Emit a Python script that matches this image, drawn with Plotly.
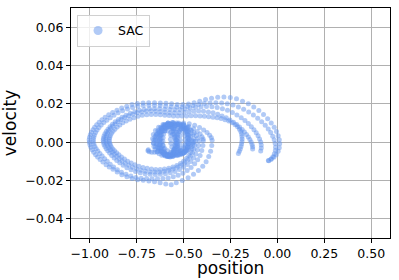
import plotly.graph_objects as go

# ---- data (position, velocity) ----
blob_loop1 = [(-0.546, 0.0003), (-0.547, 0.0023), (-0.550, 0.0042), (-0.555, 0.0058), (-0.562, 0.0071), (-0.570, 0.0078),
              (-0.578, 0.0081), (-0.586, 0.0078), (-0.594, 0.0071), (-0.601, 0.0058), (-0.606, 0.0042), (-0.609, 0.0023),
              (-0.610, 0.0003), (-0.609, -0.0017), (-0.606, -0.0036), (-0.601, -0.0052), (-0.594, -0.0065), (-0.586, -0.0072),
              (-0.578, -0.0075), (-0.570, -0.0072), (-0.562, -0.0065), (-0.555, -0.0052), (-0.550, -0.0036), (-0.547, -0.0017)]
blob_loop2 = [(-0.517, 0.0010), (-0.519, 0.0033), (-0.524, 0.0054), (-0.533, 0.0072), (-0.545, 0.0086), (-0.558, 0.0095),
              (-0.572, 0.0098), (-0.586, 0.0095), (-0.600, 0.0086), (-0.611, 0.0072), (-0.620, 0.0054), (-0.625, 0.0033),
              (-0.627, 0.0010), (-0.625, -0.0013), (-0.620, -0.0034), (-0.611, -0.0052), (-0.600, -0.0066), (-0.586, -0.0075),
              (-0.572, -0.0078), (-0.558, -0.0075), (-0.545, -0.0066), (-0.533, -0.0052), (-0.524, -0.0034), (-0.519, -0.0013)]
blob_loop3 = [(-0.470, 0.0015), (-0.473, 0.0038), (-0.482, 0.0059), (-0.496, 0.0077), (-0.515, 0.0091), (-0.537, 0.0100),
              (-0.560, 0.0103), (-0.583, 0.0100), (-0.605, 0.0091), (-0.624, 0.0077), (-0.638, 0.0059), (-0.647, 0.0038),
              (-0.650, 0.0015), (-0.647, -0.0008), (-0.638, -0.0029), (-0.624, -0.0047), (-0.605, -0.0061), (-0.583, -0.0070),
              (-0.560, -0.0073), (-0.537, -0.0070), (-0.515, -0.0061), (-0.496, -0.0047), (-0.482, -0.0029), (-0.473, -0.0008)]
blob_loop4 = [(-0.475, 0.0008), (-0.476, 0.0025), (-0.479, 0.0041), (-0.484, 0.0054), (-0.490, 0.0064), (-0.497, 0.0071),
              (-0.505, 0.0073), (-0.513, 0.0071), (-0.520, 0.0064), (-0.526, 0.0054), (-0.531, 0.0041), (-0.534, 0.0025),
              (-0.535, 0.0008), (-0.534, -0.0009), (-0.531, -0.0025), (-0.526, -0.0038), (-0.520, -0.0048), (-0.513, -0.0055),
              (-0.505, -0.0057), (-0.497, -0.0055), (-0.490, -0.0048), (-0.484, -0.0038), (-0.479, -0.0025), (-0.476, -0.0009)]
blob_loop5 = [(-0.490, 0.0012), (-0.493, 0.0033), (-0.500, 0.0052), (-0.512, 0.0069), (-0.528, 0.0081), (-0.546, 0.0089),
              (-0.565, 0.0092), (-0.584, 0.0089), (-0.603, 0.0081), (-0.618, 0.0069), (-0.630, 0.0052), (-0.637, 0.0033),
              (-0.640, 0.0012), (-0.637, -0.0009), (-0.630, -0.0028), (-0.618, -0.0045), (-0.603, -0.0057), (-0.584, -0.0065),
              (-0.565, -0.0068), (-0.546, -0.0065), (-0.528, -0.0057), (-0.512, -0.0045), (-0.500, -0.0028), (-0.493, -0.0009)]
blob_loop6 = [(-0.445, 0.0018), (-0.449, 0.0040), (-0.460, 0.0061), (-0.477, 0.0078), (-0.500, 0.0092), (-0.527, 0.0100),
              (-0.555, 0.0103), (-0.583, 0.0100), (-0.610, 0.0092), (-0.633, 0.0078), (-0.650, 0.0061), (-0.661, 0.0040),
              (-0.665, 0.0018), (-0.661, -0.0004), (-0.650, -0.0025), (-0.633, -0.0042), (-0.610, -0.0056), (-0.583, -0.0064),
              (-0.555, -0.0067), (-0.527, -0.0064), (-0.500, -0.0056), (-0.477, -0.0042), (-0.460, -0.0025), (-0.449, -0.0004)]
blob_loop7 = [(-0.458, 0.0010), (-0.462, 0.0034), (-0.472, 0.0055), (-0.488, 0.0072), (-0.508, 0.0084), (-0.530, 0.0093),
              (-0.553, 0.0096), (-0.576, 0.0094), (-0.598, 0.0087), (-0.618, 0.0075), (-0.634, 0.0058), (-0.644, 0.0037),
              (-0.648, 0.0012), (-0.644, -0.0012), (-0.634, -0.0033), (-0.618, -0.0050), (-0.598, -0.0062), (-0.576, -0.0069),
              (-0.553, -0.0071), (-0.530, -0.0068), (-0.508, -0.0060), (-0.488, -0.0047), (-0.472, -0.0030), (-0.462, -0.0011)]
blob_loop8 = [(-0.530, 0.0005), (-0.532, 0.0030), (-0.538, 0.0052), (-0.548, 0.0068), (-0.561, 0.0078), (-0.575, 0.0082),
              (-0.590, 0.0080), (-0.604, 0.0072), (-0.615, 0.0058), (-0.622, 0.0040), (-0.625, 0.0018), (-0.624, -0.0005),
              (-0.619, -0.0027), (-0.610, -0.0045), (-0.598, -0.0058), (-0.584, -0.0065), (-0.570, -0.0066), (-0.556, -0.0060),
              (-0.545, -0.0049), (-0.537, -0.0033), (-0.532, -0.0015)]
blob_loop9 = [(-0.540, 0.0010), (-0.542, 0.0032), (-0.546, 0.0053), (-0.553, 0.0070), (-0.563, 0.0084), (-0.573, 0.0092),
              (-0.585, 0.0095), (-0.597, 0.0092), (-0.607, 0.0084), (-0.617, 0.0070), (-0.624, 0.0053), (-0.628, 0.0032),
              (-0.630, 0.0010), (-0.628, -0.0012), (-0.624, -0.0033), (-0.617, -0.0050), (-0.607, -0.0064), (-0.597, -0.0072),
              (-0.585, -0.0075), (-0.573, -0.0072), (-0.563, -0.0064), (-0.553, -0.0050), (-0.546, -0.0033), (-0.542, -0.0012)]
blob_loop10 = [(-0.480, 0.0020), (-0.482, 0.0039), (-0.489, 0.0058), (-0.500, 0.0073), (-0.515, 0.0085), (-0.532, 0.0092),
               (-0.550, 0.0095), (-0.568, 0.0092), (-0.585, 0.0085), (-0.600, 0.0073), (-0.611, 0.0058), (-0.618, 0.0039),
               (-0.620, 0.0020), (-0.618, 0.0001), (-0.611, -0.0018), (-0.600, -0.0033), (-0.585, -0.0045), (-0.568, -0.0052),
               (-0.550, -0.0055), (-0.532, -0.0052), (-0.515, -0.0045), (-0.500, -0.0033), (-0.489, -0.0018), (-0.482, 0.0001)]
blob_loop11 = [(-0.540, -0.0005), (-0.542, 0.0012), (-0.548, 0.0028), (-0.558, 0.0041), (-0.570, 0.0051), (-0.585, 0.0058),
               (-0.600, 0.0060), (-0.616, 0.0058), (-0.630, 0.0051), (-0.642, 0.0041), (-0.652, 0.0028), (-0.658, 0.0012),
               (-0.660, -0.0005), (-0.658, -0.0022), (-0.652, -0.0038), (-0.642, -0.0051), (-0.630, -0.0061), (-0.616, -0.0068),
               (-0.600, -0.0070), (-0.585, -0.0068), (-0.570, -0.0061), (-0.558, -0.0051), (-0.548, -0.0038), (-0.542, -0.0022)]
blob_loop12 = [(-0.470, 0.0015), (-0.472, 0.0036), (-0.477, 0.0055), (-0.485, 0.0072), (-0.495, 0.0084), (-0.507, 0.0092),
               (-0.520, 0.0095), (-0.533, 0.0092), (-0.545, 0.0084), (-0.555, 0.0072), (-0.563, 0.0055), (-0.568, 0.0036),
               (-0.570, 0.0015), (-0.568, -0.0006), (-0.563, -0.0025), (-0.555, -0.0042), (-0.545, -0.0054), (-0.533, -0.0062),
               (-0.520, -0.0065), (-0.507, -0.0062), (-0.495, -0.0054), (-0.485, -0.0042), (-0.477, -0.0025), (-0.472, -0.0006)]
blob_tail = [(-0.640, -0.0050), (-0.655, -0.0052), (-0.670, -0.0053), (-0.683, -0.0050), (-0.690, -0.0045), (-0.688, -0.0040)]

episode1 = [(-0.500, 0.0100), (-0.470, 0.0096), (-0.441, 0.0088), (-0.415, 0.0077), (-0.393, 0.0064), (-0.375, 0.0050),
            (-0.361, 0.0036), (-0.352, 0.0023), (-0.348, 0.0010), (-0.350, -0.0018), (-0.356, -0.0047), (-0.366, -0.0075),
            (-0.380, -0.0102), (-0.398, -0.0126), (-0.421, -0.0148), (-0.447, -0.0168), (-0.476, -0.0186), (-0.507, -0.0200),
            (-0.539, -0.0212), (-0.566, -0.0222), (-0.595, -0.0218), (-0.625, -0.0212), (-0.655, -0.0207), (-0.685, -0.0203),
            (-0.715, -0.0199), (-0.745, -0.0196), (-0.774, -0.0190), (-0.802, -0.0181), (-0.829, -0.0170), (-0.854, -0.0156),
            (-0.876, -0.0141), (-0.896, -0.0130), (-0.913, -0.0118), (-0.930, -0.0104), (-0.945, -0.0091), (-0.958, -0.0078),
            (-0.969, -0.0065), (-0.979, -0.0052), (-0.987, -0.0039), (-0.994, -0.0026), (-0.999, -0.0013), (-1.002, 0.0000),
            (-1.003, 0.0013), (-1.001, 0.0026), (-0.997, 0.0039), (-0.991, 0.0052), (-0.983, 0.0065), (-0.974, 0.0078),
            (-0.963, 0.0091), (-0.950, 0.0104), (-0.935, 0.0117), (-0.918, 0.0130), (-0.899, 0.0143), (-0.878, 0.0155),
            (-0.855, 0.0167), (-0.830, 0.0178), (-0.803, 0.0188), (-0.775, 0.0196), (-0.746, 0.0202), (-0.716, 0.0205),
            (-0.686, 0.0206), (-0.655, 0.0206), (-0.624, 0.0205), (-0.594, 0.0203), (-0.564, 0.0200), (-0.534, 0.0197),
            (-0.504, 0.0196), (-0.474, 0.0199), (-0.444, 0.0206), (-0.414, 0.0214), (-0.383, 0.0222), (-0.351, 0.0229),
            (-0.318, 0.0234), (-0.285, 0.0236), (-0.251, 0.0233), (-0.218, 0.0226), (-0.186, 0.0214), (-0.155, 0.0200),
            (-0.126, 0.0184), (-0.099, 0.0165), (-0.074, 0.0144), (-0.052, 0.0122), (-0.033, 0.0100), (-0.017, 0.0078),
            (-0.005, 0.0056), (0.004, 0.0034), (0.010, 0.0013), (0.012, -0.0008), (0.010, -0.0029), (0.004, -0.0048),
            (-0.006, -0.0065), (-0.019, -0.0079), (-0.033, -0.0089), (-0.048, -0.0096)]
episode2 = [(-0.500, 0.0090), (-0.472, 0.0082), (-0.447, 0.0070), (-0.427, 0.0056), (-0.412, 0.0042), (-0.402, 0.0028),
            (-0.396, 0.0016), (-0.395, 0.0008), (-0.397, -0.0018), (-0.403, -0.0044), (-0.412, -0.0069), (-0.425, -0.0092),
            (-0.441, -0.0113), (-0.460, -0.0132), (-0.481, -0.0148), (-0.504, -0.0162), (-0.529, -0.0173), (-0.555, -0.0181),
            (-0.582, -0.0187), (-0.610, -0.0190), (-0.639, -0.0191), (-0.668, -0.0191), (-0.697, -0.0190), (-0.726, -0.0188),
            (-0.754, -0.0184), (-0.781, -0.0177), (-0.807, -0.0168), (-0.831, -0.0157), (-0.853, -0.0144), (-0.873, -0.0130),
            (-0.891, -0.0115), (-0.907, -0.0100), (-0.921, -0.0086), (-0.934, -0.0072), (-0.946, -0.0059), (-0.957, -0.0046),
            (-0.966, -0.0034), (-0.973, -0.0022), (-0.978, -0.0010), (-0.981, 0.0002), (-0.981, 0.0014), (-0.979, 0.0026),
            (-0.975, 0.0038), (-0.969, 0.0050), (-0.961, 0.0063), (-0.951, 0.0076), (-0.939, 0.0089), (-0.925, 0.0102),
            (-0.909, 0.0115), (-0.891, 0.0128), (-0.871, 0.0141), (-0.849, 0.0153), (-0.825, 0.0164), (-0.799, 0.0173),
            (-0.772, 0.0181), (-0.744, 0.0187), (-0.715, 0.0191), (-0.685, 0.0193), (-0.655, 0.0193), (-0.625, 0.0191),
            (-0.595, 0.0188), (-0.566, 0.0185), (-0.537, 0.0183), (-0.508, 0.0183), (-0.479, 0.0186), (-0.450, 0.0191),
            (-0.420, 0.0197), (-0.390, 0.0202), (-0.359, 0.0205), (-0.328, 0.0206), (-0.297, 0.0205), (-0.267, 0.0201),
            (-0.237, 0.0194), (-0.208, 0.0184), (-0.180, 0.0172), (-0.153, 0.0158), (-0.128, 0.0142), (-0.105, 0.0125),
            (-0.084, 0.0107), (-0.065, 0.0088), (-0.049, 0.0069), (-0.036, 0.0050), (-0.025, 0.0031), (-0.017, 0.0012),
            (-0.012, -0.0007), (-0.010, -0.0026), (-0.011, -0.0044), (-0.016, -0.0061), (-0.024, -0.0076), (-0.034, -0.0088),
            (-0.046, -0.0097)]
episode3 = [(-0.480, 0.0075), (-0.460, 0.0062), (-0.444, 0.0048), (-0.432, 0.0034), (-0.424, 0.0020), (-0.418, 0.0006),
            (-0.420, -0.0017), (-0.426, -0.0040), (-0.435, -0.0062), (-0.447, -0.0082), (-0.462, -0.0101), (-0.480, -0.0117),
            (-0.500, -0.0131), (-0.522, -0.0143), (-0.546, -0.0153), (-0.571, -0.0160), (-0.597, -0.0165), (-0.624, -0.0168),
            (-0.651, -0.0169), (-0.678, -0.0168), (-0.705, -0.0165), (-0.731, -0.0160), (-0.756, -0.0153), (-0.780, -0.0144),
            (-0.802, -0.0133), (-0.822, -0.0121), (-0.840, -0.0108), (-0.856, -0.0095), (-0.870, -0.0082), (-0.883, -0.0069),
            (-0.894, -0.0057), (-0.904, -0.0045), (-0.912, -0.0034), (-0.919, -0.0023), (-0.924, -0.0012), (-0.927, -0.0001),
            (-0.928, 0.0010), (-0.927, 0.0021), (-0.924, 0.0032), (-0.919, 0.0044), (-0.912, 0.0056), (-0.903, 0.0068),
            (-0.892, 0.0080), (-0.879, 0.0093), (-0.864, 0.0106), (-0.847, 0.0118), (-0.828, 0.0130), (-0.807, 0.0141),
            (-0.784, 0.0151), (-0.760, 0.0159), (-0.735, 0.0166), (-0.709, 0.0171), (-0.682, 0.0174), (-0.655, 0.0175),
            (-0.628, 0.0174), (-0.601, 0.0172), (-0.574, 0.0170), (-0.547, 0.0169), (-0.520, 0.0170), (-0.493, 0.0173),
            (-0.465, 0.0178), (-0.436, 0.0182), (-0.407, 0.0185), (-0.378, 0.0186), (-0.349, 0.0185), (-0.321, 0.0181),
            (-0.293, 0.0175), (-0.266, 0.0166), (-0.240, 0.0155), (-0.216, 0.0142), (-0.193, 0.0128), (-0.173, 0.0113),
            (-0.155, 0.0097), (-0.139, 0.0081), (-0.125, 0.0065), (-0.113, 0.0049), (-0.103, 0.0033), (-0.095, 0.0017),
            (-0.089, 0.0001), (-0.086, -0.0015), (-0.086, -0.0031), (-0.089, -0.0046)]
episode4 = [(-0.438, 0.0005), (-0.440, -0.0016), (-0.445, -0.0037), (-0.453, -0.0057), (-0.464, -0.0075), (-0.478, -0.0092),
            (-0.494, -0.0107), (-0.513, -0.0120), (-0.534, -0.0131), (-0.556, -0.0140), (-0.579, -0.0147), (-0.603, -0.0152),
            (-0.628, -0.0155), (-0.653, -0.0156), (-0.678, -0.0155), (-0.703, -0.0152), (-0.727, -0.0147), (-0.750, -0.0140),
            (-0.772, -0.0131), (-0.792, -0.0121), (-0.811, -0.0110), (-0.828, -0.0098), (-0.843, -0.0086), (-0.857, -0.0074),
            (-0.869, -0.0062), (-0.880, -0.0051), (-0.890, -0.0040), (-0.898, -0.0029), (-0.905, -0.0018), (-0.910, -0.0007),
            (-0.913, 0.0004), (-0.914, 0.0015), (-0.913, 0.0026), (-0.910, 0.0037), (-0.905, 0.0048), (-0.898, 0.0059),
            (-0.889, 0.0071), (-0.878, 0.0083), (-0.865, 0.0095), (-0.850, 0.0107), (-0.833, 0.0118), (-0.814, 0.0129),
            (-0.793, 0.0138), (-0.771, 0.0146), (-0.748, 0.0153), (-0.724, 0.0158), (-0.699, 0.0161), (-0.674, 0.0162),
            (-0.649, 0.0161), (-0.624, 0.0159), (-0.599, 0.0156), (-0.574, 0.0154), (-0.549, 0.0153), (-0.524, 0.0154),
            (-0.498, 0.0156), (-0.472, 0.0159), (-0.446, 0.0161), (-0.420, 0.0162), (-0.394, 0.0161), (-0.368, 0.0158),
            (-0.343, 0.0153), (-0.318, 0.0146), (-0.295, 0.0137), (-0.273, 0.0127), (-0.253, 0.0116), (-0.234, 0.0104),
            (-0.217, 0.0092), (-0.202, 0.0079), (-0.188, 0.0066), (-0.176, 0.0053), (-0.165, 0.0040), (-0.155, 0.0027),
            (-0.147, 0.0014), (-0.140, 0.0001), (-0.135, -0.0012), (-0.132, -0.0024), (-0.132, -0.0036)]
episode5 = [(-0.448, 0.0005), (-0.450, -0.0015), (-0.455, -0.0034), (-0.462, -0.0052), (-0.472, -0.0069), (-0.485, -0.0085),
            (-0.500, -0.0099), (-0.517, -0.0111), (-0.536, -0.0122), (-0.557, -0.0130), (-0.579, -0.0136), (-0.602, -0.0140),
            (-0.625, -0.0142), (-0.648, -0.0142), (-0.671, -0.0140), (-0.694, -0.0136), (-0.716, -0.0132), (-0.738, -0.0126),
            (-0.759, -0.0118), (-0.779, -0.0109), (-0.798, -0.0099), (-0.815, -0.0088), (-0.831, -0.0077), (-0.845, -0.0066),
            (-0.857, -0.0055), (-0.868, -0.0045), (-0.877, -0.0035), (-0.885, -0.0025), (-0.890, -0.0015), (-0.894, -0.0005),
            (-0.896, 0.0005), (-0.896, 0.0015), (-0.894, 0.0025), (-0.890, 0.0035), (-0.884, 0.0046), (-0.876, 0.0057),
            (-0.866, 0.0068), (-0.854, 0.0079), (-0.840, 0.0090), (-0.824, 0.0101), (-0.806, 0.0111), (-0.786, 0.0120),
            (-0.765, 0.0128), (-0.743, 0.0135), (-0.720, 0.0140), (-0.696, 0.0143), (-0.672, 0.0145), (-0.648, 0.0145),
            (-0.624, 0.0143), (-0.600, 0.0141), (-0.577, 0.0139), (-0.554, 0.0137), (-0.531, 0.0136), (-0.508, 0.0136),
            (-0.484, 0.0137), (-0.460, 0.0138), (-0.436, 0.0138), (-0.412, 0.0137), (-0.389, 0.0135), (-0.366, 0.0133),
            (-0.343, 0.0130), (-0.321, 0.0127), (-0.300, 0.0123), (-0.279, 0.0117), (-0.259, 0.0110), (-0.241, 0.0101),
            (-0.225, 0.0091), (-0.212, 0.0080), (-0.202, 0.0068), (-0.195, 0.0055), (-0.191, 0.0042), (-0.189, 0.0029),
            (-0.188, 0.0016), (-0.189, 0.0003), (-0.191, -0.0010), (-0.194, -0.0023), (-0.198, -0.0036), (-0.203, -0.0048),
            (-0.208, -0.0059)]

x_tick_values = [-1.0, -0.75, -0.5, -0.25, 0.0, 0.25, 0.5]
x_tick_labels = ["\u22121.00", "\u22120.75", "\u22120.50", "\u22120.25", "0.00", "0.25", "0.50"]
y_tick_values = [-0.04, -0.02, 0.0, 0.02, 0.04, 0.06]
y_tick_labels = ["\u22120.04", "\u22120.02", "0.00", "0.02", "0.04", "0.06"]

all_segments = [blob_loop1, blob_loop2, blob_loop3, blob_loop4, blob_loop5, blob_loop6, blob_loop7, blob_loop8,
                blob_loop9, blob_loop10, blob_loop11, blob_loop12, blob_tail,
                episode1, episode2, episode3, episode4, episode5]
position = [p for seg in all_segments for p, _ in seg]
velocity = [v for seg in all_segments for _, v in seg]

color = "rgba(100,149,237,0.5)"

fig = go.Figure()
fig.add_trace(go.Scatter(x=position, y=velocity, mode="markers", showlegend=False,
                         marker=dict(size=5, color=color, line=dict(width=0))))
# legend entry (larger glyph as in the reference legend)
fig.add_trace(go.Scatter(x=[None], y=[None], mode="markers", name="SAC",
                         marker=dict(size=9, color=color, line=dict(width=0))))

axis_common = dict(showline=True, linecolor="black", linewidth=1, mirror=True,
                   ticks="outside", ticklen=4, tickcolor="black", automargin=False,
                   showgrid=True, gridcolor="#b0b0b0", gridwidth=1, zeroline=False,
                   tickfont=dict(size=12.5, color="black"))
fig.update_xaxes(range=[-1.1, 0.6], tickvals=x_tick_values, ticktext=x_tick_labels, **axis_common)
fig.update_yaxes(range=[-0.05, 0.07], tickvals=y_tick_values, ticktext=y_tick_labels,
                 title=dict(text="velocity", font=dict(size=17), standoff=6), **axis_common)

fig.add_annotation(text="position", xref="paper", yref="paper", x=0.5, y=-0.132,
                   xanchor="center", yanchor="middle", showarrow=False, borderpad=0,
                   font=dict(size=17))

fig.update_layout(width=399, height=280, margin=dict(l=71, r=9, t=8, b=42),
                  plot_bgcolor="white", paper_bgcolor="white",
                  font=dict(family="DejaVu Sans", color="black"),
                  legend=dict(x=0.019, y=0.97, xanchor="left", yanchor="top",
                              bordercolor="#d0d0d0", borderwidth=1, bgcolor="rgba(255,255,255,0.8)",
                              font=dict(size=12.5)))

fig.write_html("out.html", config={"displayModeBar": False},
               post_script="document.body.style.margin='0';")
